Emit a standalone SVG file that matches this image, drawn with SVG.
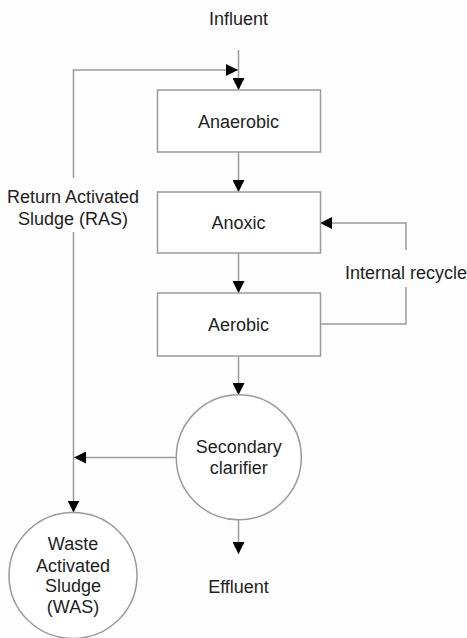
<svg xmlns="http://www.w3.org/2000/svg" width="467" height="638" viewBox="0 0 467 638">
<style>
text{font-family:"Liberation Sans",Arial,sans-serif;font-size:18px;fill:#1e1e1e;text-anchor:middle}
.shape{fill:#ffffff;stroke:#9a9a9a;stroke-width:1.5}
.conn{fill:none;stroke:#9a9a9a;stroke-width:1.5}
</style>
<defs>
<marker id="arr" markerUnits="userSpaceOnUse" markerWidth="13" markerHeight="12" refX="12" refY="6" orient="auto">
<path d="M0,0 L12,6 L0,12 Z" fill="#000"/>
</marker>
</defs>
<rect x="0" y="0" width="467" height="638" fill="#fdfdfd"/>
<g id="connectors">
<line class="conn" x1="238.5" y1="50" x2="238.5" y2="90" marker-end="url(#arr)"/>
<polyline class="conn" points="73.5,178 73.5,70 238,70" marker-end="url(#arr)"/>
<line class="conn" x1="73.5" y1="232" x2="73.5" y2="512.5" marker-end="url(#arr)"/>
<line class="conn" x1="176" y1="457.5" x2="74" y2="457.5" marker-end="url(#arr)"/>
<line class="conn" x1="238.5" y1="152" x2="238.5" y2="192" marker-end="url(#arr)"/>
<line class="conn" x1="238.5" y1="253" x2="238.5" y2="293" marker-end="url(#arr)"/>
<line class="conn" x1="238.5" y1="356" x2="238.5" y2="395" marker-end="url(#arr)"/>
<polyline class="conn" points="320,324 406,324 406,287"/>
<polyline class="conn" points="406,250 406,223 320,223" marker-end="url(#arr)"/>
<line class="conn" x1="238.5" y1="520" x2="238.5" y2="554" marker-end="url(#arr)"/>
</g>
<g id="influent"><text x="238.5" y="25">Influent</text></g>
<g id="ras-label"><text x="73" y="203">Return Activated</text><text x="73" y="225">Sludge (RAS)</text></g>
<g id="anaerobic"><rect class="shape" x="157.5" y="90" width="163" height="62"/><text x="238.5" y="127.5">Anaerobic</text></g>
<g id="anoxic"><rect class="shape" x="157.5" y="192" width="163" height="61"/><text x="238.5" y="228.5">Anoxic</text></g>
<g id="aerobic"><rect class="shape" x="157.5" y="293" width="163" height="63"/><text x="238.5" y="330.5">Aerobic</text></g>
<g id="internal-recycle"><text x="406" y="279">Internal recycle</text></g>
<g id="clarifier"><circle class="shape" cx="238.8" cy="457.3" r="62.5"/><text x="238.8" y="452.7">Secondary</text><text x="238.8" y="473.5">clarifier</text></g>
<g id="was"><ellipse class="shape" cx="73" cy="575.5" rx="64" ry="63"/><text x="73" y="550">Waste</text><text x="73" y="571.5">Activated</text><text x="73" y="592">Sludge</text><text x="73" y="613">(WAS)</text></g>
<g id="effluent"><text x="238.5" y="593">Effluent</text></g>
</svg>
